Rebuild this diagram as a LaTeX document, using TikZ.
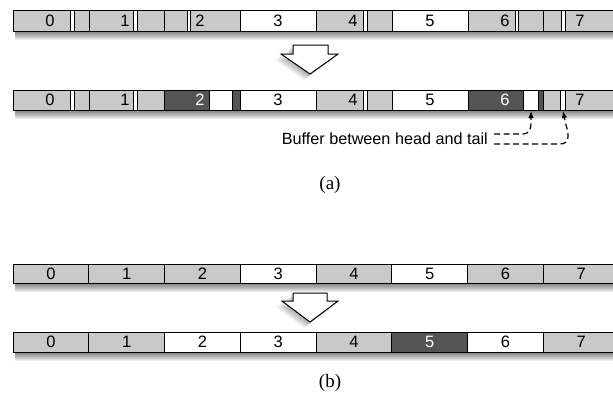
\documentclass[tikz,border=0pt]{standalone}
\usepackage{fontspec}
\setmainfont{Liberation Serif}
\setsansfont{Liberation Sans}
\usetikzlibrary{arrows.meta}

\definecolor{segGray}{gray}{0.79}
\definecolor{segDark}{gray}{0.33}

\tikzset{
  seg/.style={draw=black,line width=1pt},
  digit/.style={font=\sffamily\fontsize{16.5}{18}\selectfont,inner sep=0pt},
  bigarrow/.style={draw=black,fill=white,line width=1pt,line join=miter},
  bufline/.style={line width=1.2pt,dash pattern=on 6pt off 3.5pt,-{Latex[length=7pt,width=5.5pt]}},
}

% soft shadow under a bar (#1 top, #2 bottom)
\newcommand{\barshadow}[2]{%
  \foreach \d in {1,...,9}{
    \fill[black,opacity=0.07] (15,#1+\d) rectangle (613,#2+\d);
  }
}

\begin{document}
\begin{tikzpicture}[x=1pt,y=-1pt]
  \useasboundingbox (0,0) rectangle (613,408);
  \clip (0,0) rectangle (613,408);
  %% (a) -- top bar
  \barshadow{10}{31}
  \foreach \xa/\xb/\fc in {13/70/segGray,70/74/white,74/89/segGray,89/133/segGray,133/137/white,
    137/164/segGray,164/187/segGray,187/190/white,190/240/segGray,240/316/white,316/363/segGray,
    363/367/white,367/392/segGray,392/468/white,468/515/segGray,515/518/white,518/543/segGray,
    543/561/segGray,561/565/white,565/619/segGray}{
    \draw[seg,fill=\fc] (\xa,10) rectangle (\xb,31);
  }
  \foreach \x/\lab in {50/0,125/1,200/2,278/3,353/4,430/5,505/6,580/7}{
    \node[digit] (topA-\lab) at (\x,20.5) {\lab};
  }
  % big arrow
  \foreach \d in {1,...,6}{
    \fill[black,opacity=0.06] (293-\d,45+\d) -- (328-\d,45+\d) -- (328-\d,54+\d) -- (338-\d,54+\d)
      -- (310-\d,74+\d) -- (281-\d,54+\d) -- (293-\d,54+\d) -- cycle;
  }
  \draw[bigarrow] (293,45) -- (328,45) -- (328,54) -- (338,54) -- (310,74) -- (281,54) -- (293,54) -- cycle;
  %% (a) -- bottom bar
  \barshadow{90}{110}
  \foreach \xa/\xb/\fc in {13/70/segGray,70/74/white,74/89/segGray,89/133/segGray,133/137/white,
    137/164/segGray,164/209/segDark,209/232/white,232/240/segDark,240/316/white,316/363/segGray,
    363/367/white,367/392/segGray,392/468/white,468/523/segDark,523/538/white,538/543/segDark,
    543/560/segGray,560/565/white,565/619/segGray}{
    \draw[seg,fill=\fc] (\xa,90) rectangle (\xb,110);
  }
  \foreach \x/\lab/\tc in {50/0/black,125/1/black,200/2/white,278/3/black,353/4/black,430/5/black,505/6/white,580/7/black}{
    \node[digit,text=\tc] (botA-\lab) at (\x,100) {\lab};
  }
  \coordinate (head) at (531,111);
  \coordinate (tail) at (563,111);
  \node[font=\sffamily\fontsize{16.2}{18}\selectfont,anchor=east,inner sep=0pt] (buf) at (488,139) {Buffer between head and tail};
  \draw[bufline] ([shift={(6,-5)}]buf.east) -- (522,134) .. controls (530,134) and (531,129) .. (531,122) -- (head);
  \draw[bufline] ([shift={(6,5)}]buf.east) -- (560,144) .. controls (570,144) and (569,134) .. (566,125) -- (tail);
  \node[font=\fontsize{19}{21}\selectfont,inner sep=0pt] (capA) at (330,185) {(a)};
  %% (b) -- top bar
  \barshadow{264}{283}
  \foreach \fc [count=\ind from 0] in {segGray,segGray,segGray,white,segGray,white,segGray,segGray}{
    \draw[seg,fill=\fc] ({13+75.75*\ind},264) rectangle ({13+75.75*(\ind+1)},283);
    \node[digit] (topB-\ind) at ({13+75.75*(\ind+0.5)},273.5) {\ind};
  }
  % small arrow
  \foreach \d in {1,...,6}{
    \fill[black,opacity=0.06] (293-\d,293+\d) -- (327-\d,293+\d) -- (327-\d,301+\d) -- (338-\d,301+\d)
      -- (310-\d,322+\d) -- (282-\d,301+\d) -- (293-\d,301+\d) -- cycle;
  }
  \draw[bigarrow] (293,293) -- (327,293) -- (327,301) -- (338,301) -- (310,322) -- (282,301) -- (293,301) -- cycle;
  %% (b) -- bottom bar
  \barshadow{332}{352}
  \foreach \fc/\tc [count=\ind from 0] in {segGray/black,segGray/black,white/black,white/black,segGray/black,segDark/white,white/black,segGray/black}{
    \draw[seg,fill=\fc] ({13+75.75*\ind},332) rectangle ({13+75.75*(\ind+1)},352);
    \node[digit,text=\tc] (botB-\ind) at ({13+75.75*(\ind+0.5)},342) {\ind};
  }
  \node[font=\fontsize{19}{21}\selectfont,inner sep=0pt] (capB) at (330,383) {(b)};
\end{tikzpicture}
\end{document}
